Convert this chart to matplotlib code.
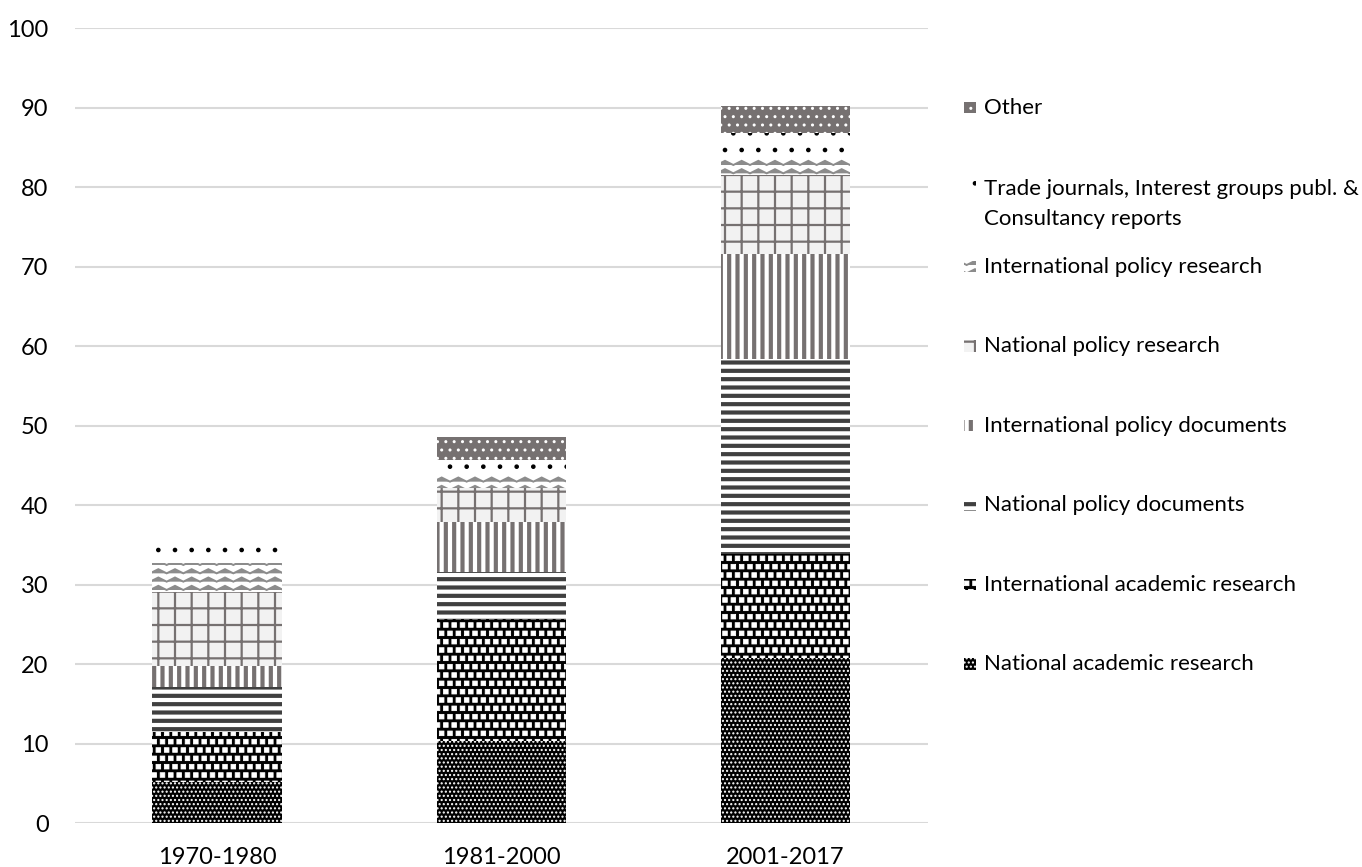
import warnings
import numpy as np
import matplotlib
matplotlib.use("Agg")
import matplotlib.pyplot as plt
import matplotlib.hatch as mhatch
from matplotlib.path import Path
from matplotlib.patches import Rectangle
from matplotlib.transforms import blended_transform_factory

warnings.filterwarnings("ignore")

periods = ["1970-1980", "1981-2000", "2001-2017"]
series = [
    "National academic research",
    "International academic research",
    "National policy documents",
    "International policy documents",
    "National policy research",
    "International policy research",
    "Trade journals, Interest groups publ. &\nConsultancy reports",
    "Other",
]
national_academic = [5.2, 10.3, 20.7]
international_academic = [6.3, 15.4, 13.1]
national_policy_docs = [5.6, 5.9, 24.6]
international_policy_docs = [2.6, 6.3, 13.2]
national_policy_research = [9.4, 4.2, 9.9]
international_policy_research = [3.6, 1.5, 2.1]
trade_journals = [2.5, 2.1, 3.2]
other = [0.0, 2.8, 3.4]
values = [national_academic, international_academic, national_policy_docs,
          international_policy_docs, national_policy_research,
          international_policy_research, trade_journals, other]
yticks = list(range(0, 101, 10))


class WaveHatch(mhatch.HatchPatternBase):
    """Zigzag rows, selected with '~'."""
    def __init__(self, hatch, density):
        self.num_rows = hatch.count('~') * density
        self.num_pts = 13
        self.num_vertices = self.num_rows * self.num_pts

    def set_vertices_and_codes(self, vertices, codes):
        xs = np.linspace(0, 1, self.num_pts)
        step = 1.0 / max(self.num_rows, 1)
        for r in range(self.num_rows):
            ys = r * step + 0.2 * step + np.where(np.arange(self.num_pts) % 2, 0.5 * step, 0)
            sl = slice(r * self.num_pts, (r + 1) * self.num_pts)
            vertices[sl, 0] = xs
            vertices[sl, 1] = ys
            codes[sl] = Path.LINETO
            codes[r * self.num_pts] = Path.MOVETO


class SquareDots(mhatch.Shapes):
    """Staggered filled squares, selected with '#'."""
    size = 0.55
    filled = True

    def __init__(self, hatch, density):
        self.num_rows = hatch.count('#') * density
        path = Path.unit_rectangle()
        self.shape_vertices = path.vertices - 0.5
        self.shape_codes = path.codes
        super().__init__(hatch, density)


mhatch._hatch_types.extend([WaveHatch, SquareDots])

# face, hatch colour, hatch pattern, hatch width
styles = [
    ("black", "white", "....", 1.0),
    ("black", "white", "##", 0.6),
    ("white", "#404040", "--", 3.0),
    ("white", "#767171", "||", 3.0),
    ("#f2f2f2", "#767171", "+", 1.6),
    ("white", "#8c8c8c", "~~", 1.4),
    ("white", "black", ".", 0.9),
    ("#767171", "white", "..", 1.0),
]

plt.rcParams['font.family'] = ['Lato', 'DejaVu Sans']
text_color = "black"
tick_size = 17
legend_size = 16

fig = plt.figure(figsize=(13.62, 8.67), dpi=100)
ax = fig.add_axes([0.055, 0.0507, 0.626, 0.917])

x = np.arange(len(periods))
bottom = np.zeros(len(periods))
for vals, (fc, hc, hatch, hlw) in zip(values, styles):
    plt.rcParams['hatch.linewidth'] = hlw
    bars = ax.bar(x, vals, 0.455, bottom=bottom, color=fc, edgecolor=hc,
                  hatch=hatch, linewidth=0, zorder=2)
    for b in bars:
        if hasattr(b, "set_hatch_linewidth"):
            b.set_hatch_linewidth(hlw)
    bottom += np.array(vals)

ax.set_xlim(-0.5, 2.5)
ax.set_ylim(0, 100)
ax.set_yticks(yticks)
ax.set_xticks(x)
ax.set_xticklabels(periods)
ax.yaxis.grid(True, color="#d9d9d9", linewidth=1.5, zorder=0)
ax.set_axisbelow(True)
for s in ax.spines.values():
    s.set_visible(False)
ax.tick_params(axis="both", length=0, labelsize=tick_size, labelcolor=text_color)
ax.tick_params(axis="y", pad=19)
ax.tick_params(axis="x", pad=17)

# legend to the right, one entry per gridline
trans = blended_transform_factory(fig.transFigure, ax.transData)
sw_x = 964 / 1362
sw_w = 12 / 1362
txt_x = 984 / 1362
for i, (name, (fc, hc, hatch, hlw)) in enumerate(zip(series, styles)):
    y = 20 + 10 * i
    plt.rcParams['hatch.linewidth'] = hlw
    sw = Rectangle((sw_x, y - 0.75), sw_w, 1.5, transform=trans, facecolor=fc,
                   edgecolor=hc, hatch=hatch, linewidth=0, clip_on=False)
    fig.add_artist(sw)
    if "\n" in name:
        ax.annotate(name, xy=(txt_x, y), xycoords=trans, xytext=(0, 6),
                    textcoords="offset points", va="top", ha="left",
                    fontsize=legend_size, color=text_color, linespacing=1.65,
                    annotation_clip=False)
    else:
        ax.text(txt_x, y, name, transform=trans, va="center", ha="left",
                fontsize=legend_size, color=text_color)

fig.savefig("out.png", dpi=100)
